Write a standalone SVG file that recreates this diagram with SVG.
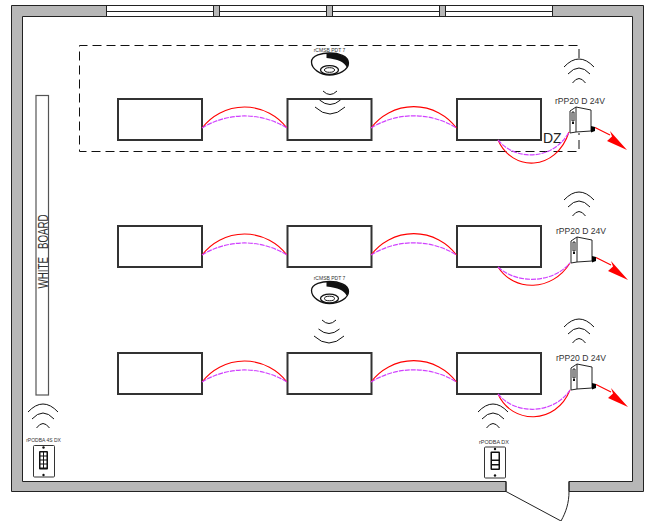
<svg xmlns="http://www.w3.org/2000/svg" width="645" height="521" viewBox="0 0 645 521">
<style>
text{font-family:"Liberation Sans",Arial,sans-serif;fill:#333}
.lum{fill:#fff;stroke:#333;stroke-width:2}
.red{fill:none;stroke:#f00;stroke-width:1.100}
.pur{fill:none;stroke:#d040ff;stroke-width:1.200;stroke-dasharray:5 1}
.wave{fill:none;stroke:#111;stroke-width:1}
.small{font-size:5px;text-anchor:middle}
.mid{font-size:8.600px;text-anchor:middle}
</style>
<defs>
<g id="wavesUp" class="wave">
<path d="M-15,8Q0,-8 15,8"/><path d="M-11,15Q0,3 11,15"/><path d="M-6.500,24Q0,15 6.500,24"/>
</g>
<g id="wavesDown" class="wave">
<path d="M-7,0Q0,7 7,0"/><path d="M-10.500,9Q0,18 10.500,9"/><path d="M-15,16Q0,30 15,16"/>
</g>
<g id="sensor">
<path d="M-18,-2C-18,-9 -7,-11 0,-11C9,-11 19,-8 19,-1C19,6 9,11 0,11C-9,11 -18,5 -18,-2Z" fill="#fff" stroke="#111" stroke-width="1.300"/>
<path d="M-3,-11C9,-11 19,-8 19,-1C19,1 18,3 17,3C15,-2 8,-5 -3,-6Z" fill="#111"/>
<ellipse cx="0" cy="6" rx="9" ry="4.300" fill="#fff" stroke="#111" stroke-width="1.300"/>
<ellipse cx="0" cy="6" rx="5" ry="2.300" fill="#fff" stroke="#111" stroke-width="1"/>
</g>
<g id="pp20">
<path d="M1,3L7,-1L22,2L22,23L7,24L1,25Z" fill="#fff" stroke="#222" stroke-width="1"/>
<path d="M7,-1V24" fill="none" stroke="#222" stroke-width="1"/>
<path d="M3,4H5V13H3Z" fill="none" stroke="#222" stroke-width="1"/>
<rect x="3" y="14" width="2" height="2" fill="#111"/>
<path d="M22,18L26,19L26,23L22,24.500Z" fill="#000"/>
<path d="M26,19.500L41,27" fill="none" stroke="#f00" stroke-width="1.200"/>
<path d="M58,42L41,23L43,28.500L38,33Z" fill="#f00"/>
</g>
</defs>
<g id="room">
<path fill-rule="evenodd" d="M11.500,5.500H643.500V491.500H569V481.500H632.500V16.500H22.500V481.500H506V491.500H11.500Z" fill="#b7b7b7" stroke="#222" stroke-width="1"/>
<path d="M506,481.500V491.500M569,481.500V491.500" stroke="#222" stroke-width="1"/>
</g>
<g id="windows" fill="#fff" stroke="#222" stroke-width="1">
<rect x="106.500" y="5.500" width="107" height="11"/><path d="M107,11.500H213"/>
<rect x="219.500" y="5.500" width="107" height="11"/><path d="M220,11.500H326"/>
<rect x="332.500" y="5.500" width="107" height="11"/><path d="M333,11.500H439"/>
<rect x="445.500" y="5.500" width="107" height="11"/><path d="M446,11.500H552"/>
</g>
<g id="door" fill="none" stroke="#222" stroke-width="1">
<path d="M506,491.500L561,521"/><path d="M569,491.500C569,503 566,512 561,521"/>
</g>
<g id="dz-zone" fill="none" stroke="#111" stroke-width="1" stroke-dasharray="9 5">
<path d="M579,58V45.500H79.500V151.500H579V133"/>
</g>
<g id="white-board">
<rect x="36" y="95.500" width="12.500" height="299.500" fill="#fff" stroke="#555" stroke-width="1.200"/>
<text transform="translate(48,288.500) rotate(-90) scale(.63,1)" font-size="15.500" word-spacing="8.400">WHITE BOARD</text>
</g>
<g id="luminaires">
<g id="lum-1-1"><rect class="lum" x="118" y="99" width="84" height="41"/></g>
<g id="lum-1-2"><rect class="lum" x="287.500" y="99" width="84" height="41"/></g>
<g id="lum-1-3"><rect class="lum" x="457" y="99" width="84" height="41"/></g>
<g id="lum-2-1"><rect class="lum" x="118" y="226" width="84" height="41"/></g>
<g id="lum-2-2"><rect class="lum" x="287.500" y="226" width="84" height="41"/></g>
<g id="lum-2-3"><rect class="lum" x="457" y="226" width="84" height="41"/></g>
<g id="lum-3-1"><rect class="lum" x="118" y="353" width="84" height="41"/></g>
<g id="lum-3-2"><rect class="lum" x="287.500" y="353" width="84" height="41"/></g>
<g id="lum-3-3"><rect class="lum" x="457" y="353" width="84" height="41"/></g>
</g>
<g id="sensor-1"><text class="small" x="329.500" y="52">rCMSB PDT 7</text><use href="#sensor" x="329.500" y="64"/><use href="#wavesDown" x="330" y="91"/></g>
<g id="sensor-2"><text class="small" x="329.500" y="280">rCMSB PDT 7</text><use href="#sensor" x="329.500" y="292.500"/><use href="#wavesDown" x="329" y="320"/></g>
<g id="pack-1"><use href="#wavesUp" x="579" y="59"/><text class="mid" x="580" y="104">rPP20 D 24V</text><use href="#pp20" x="569" y="108"/></g>
<g id="pack-2"><use href="#wavesUp" x="579" y="192"/><text class="mid" x="581" y="234">rPP20 D 24V</text><use href="#pp20" x="570" y="238"/></g>
<g id="pack-3"><use href="#wavesUp" x="579" y="319"/><text class="mid" x="581" y="361">rPP20 D 24V</text><use href="#pp20" x="570" y="365"/></g>
<g id="dz-label"><text x="543" y="143" font-size="14" style="fill:#222">DZ</text></g>
<g id="switch-1"><use href="#wavesUp" x="43" y="404"/><text class="small" x="43.500" y="442">rPODBA 4S DX</text>
<rect x="33.500" y="445.500" width="21" height="31.500" rx="1" fill="#fff" stroke="#333" stroke-width="1"/>
<rect x="39" y="451" width="9" height="18.500" rx="1" fill="#111"/>
<path d="M40.500,452.500h2.500v3h-2.500zM44,452.500h2.500v3h-2.500zM40.500,456.500h2.500v3h-2.500zM44,456.500h2.500v3h-2.500zM40.500,460.500h2.500v3h-2.500zM44,460.500h2.500v3h-2.500zM40.500,464.500h2.500v3h-2.500zM44,464.500h2.500v3h-2.500z" fill="#fff"/>
<circle cx="43.500" cy="447.500" r="1.200" fill="#111"/><circle cx="43.500" cy="475" r="1.200" fill="#111"/></g>
<g id="switch-2"><use href="#wavesUp" x="493" y="404"/><text class="small" x="494" y="444" style="font-size:5.500px">rPODBA DX</text>
<rect x="484.500" y="447" width="21" height="31" rx="1" fill="#fff" stroke="#333" stroke-width="1"/>
<rect x="490.500" y="451.500" width="9.500" height="18.500" rx="1" fill="#111"/>
<path d="M492,453h6.500v6.500h-6.500zM492,461h6.500v3h-6.500zM492,465.500h6.500v3h-6.500z" fill="#fff"/>
<circle cx="495" cy="449" r="1.200" fill="#111"/><circle cx="495" cy="475.500" r="1.200" fill="#111"/></g>
<g id="connectors">
<path class="red" d="M202,128A53.500,53.500 0 0 1 287,128M371,128A53.500,53.500 0 0 1 456.500,128"/>
<path class="pur" d="M202,128A81,81 0 0 1 287,128M371,128A81,81 0 0 1 456.500,128"/>
<path class="red" d="M202,255A53.500,53.500 0 0 1 287,255M371,255A53.500,53.500 0 0 1 456.500,255"/>
<path class="pur" d="M202,255A81,81 0 0 1 287,255M371,255A81,81 0 0 1 456.500,255"/>
<path class="red" d="M202,382A53.500,53.500 0 0 1 287,382M371,382A53.500,53.500 0 0 1 456.500,382"/>
<path class="pur" d="M202,382A81,81 0 0 1 287,382M371,382A81,81 0 0 1 456.500,382"/>
<path class="red" d="M498,140C512,172 556,172 569,132"/>
<path class="pur" d="M498,140C515,161 553,161 569,132"/>
<path class="red" d="M498,267C514,292 552,292 570,263"/>
<path class="pur" d="M498,267C516,284 552,284 570,263"/>
<path class="red" d="M498,394C512,425 556,425 570,390"/>
<path class="pur" d="M498,394C515,415 553,415 570,390"/>
</g>
</svg>
